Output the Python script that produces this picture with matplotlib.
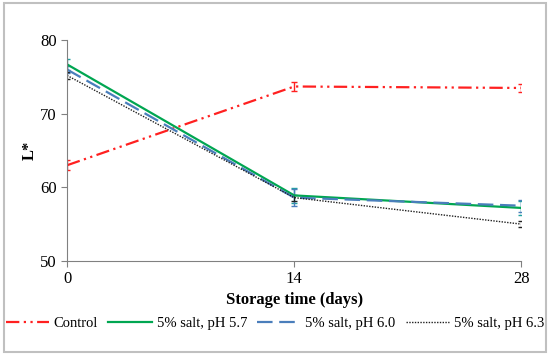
import matplotlib.pyplot as plt
from matplotlib.patches import Rectangle

plt.rcParams['font.family'] = ['Liberation Serif', 'DejaVu Serif']

days = [0, 14, 28]
control = [63.0, 73.7, 73.5]
control_err = [0.7, 0.6, 0.5]
ph57 = [76.7, 58.9, 57.2]
ph57_err = [0.8, 1.0, 1.0]
ph60 = [76.0, 58.6, 57.5]
ph60_err = [0.5, 1.2, 0.8]
ph63 = [75.2, 58.6, 55.0]
ph63_err = [0.5, 0.4, 0.4]

fig = plt.figure(figsize=(5.5, 3.55), dpi=100)
ax = fig.add_axes([0.122, 0.265, 0.826, 0.622])

ax.errorbar(days, control, yerr=control_err, color='#ff2020', lw=1.6,
            dashes=[6, 2, 1, 2, 1, 2], capsize=2, elinewidth=1, label='Control')
ax.errorbar(days, ph57, yerr=ph57_err, color='#00a651', lw=1.6,
            capsize=2, elinewidth=1, ecolor='#20a0a0', label='5% salt, pH 5.7')
ax.errorbar(days, ph60, yerr=ph60_err, color='#4a7ebb', lw=1.6,
            dashes=[7, 3], capsize=2, elinewidth=1, label='5% salt, pH 6.0')
ax.errorbar(days, ph63, yerr=ph63_err, color='#202020', lw=1.0,
            dashes=[1, 1], capsize=2, elinewidth=0.8, label='5% salt, pH 6.3')

ax.set_xlim(0, 28)
ax.set_ylim(50, 80)
ax.set_xticks(days)
ax.set_yticks([50, 60, 70, 80])
for s in ['top', 'right']:
    ax.spines[s].set_visible(False)
for s in ['left', 'bottom']:
    ax.spines[s].set_color('#808080')
ax.tick_params(colors='#808080', labelcolor='black', labelsize=12, length=4)
ax.set_xlabel('Storage time (days)', fontsize=12, fontweight='bold', labelpad=3)
ax.set_ylabel('L*', fontsize=12, fontweight='bold', labelpad=2)

handles, labels = ax.get_legend_handles_labels()
handles = [h[0] for h in handles]
fig.legend(handles, labels, loc='lower center', ncol=4, frameon=False,
           fontsize=10.5, bbox_to_anchor=(0.5, 0.045), handlelength=3.0,
           columnspacing=0.7, handletextpad=0.3, borderaxespad=0.2)

fig.patches.append(Rectangle((0.008, 0.008), 0.984, 0.984, transform=fig.transFigure,
                             fill=False, edgecolor='#c0c0c0', lw=1.5))

fig.savefig('out.png', dpi=100)
